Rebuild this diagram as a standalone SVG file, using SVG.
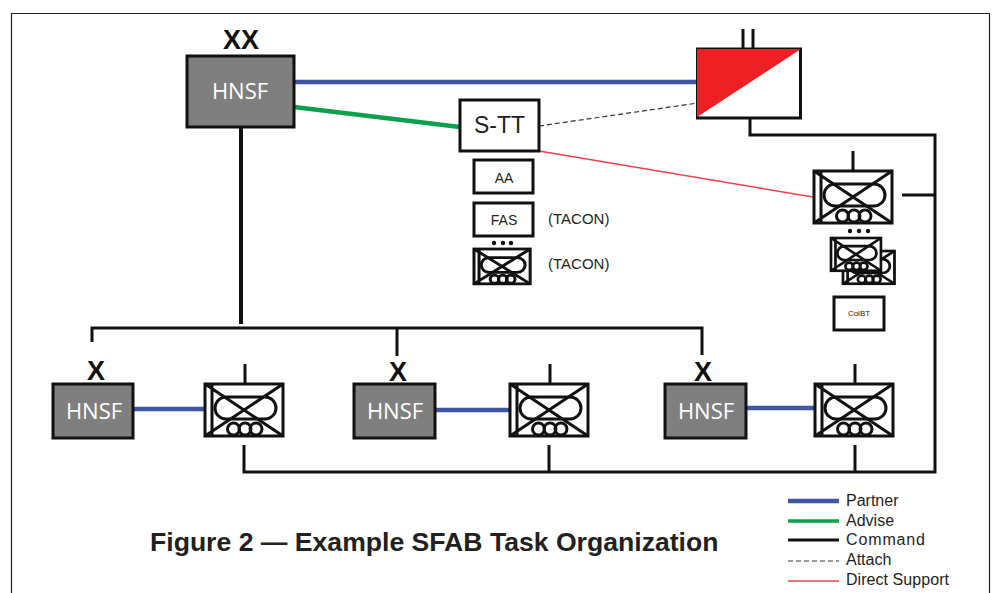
<svg xmlns="http://www.w3.org/2000/svg" width="992" height="593" viewBox="0 0 992 593">
<style>
text{font-family:"Liberation Sans",Arial,sans-serif;fill:#231f20}
.hnsf{fill:#7f7f7f;stroke:#111;stroke-width:3}
.hl{font-family:"Open Sans","Liberation Sans",sans-serif;fill:#fff;font-size:22px;text-anchor:middle}
.box{fill:#fff;stroke:#111;stroke-width:3}
.ech{font-family:"Liberation Sans",sans-serif;font-weight:bold;font-size:27px;text-anchor:middle;fill:#111}
.cmd{fill:none;stroke:#111;stroke-width:3}
.partner{fill:none;stroke:#3f55a5;stroke-width:4.5}
.advise{fill:none;stroke:#0ba14b;stroke-width:4.5}
.attach{fill:none;stroke:#333;stroke-width:1.2;stroke-dasharray:5 3}
.ds{fill:none;stroke:#ee4048;stroke-width:1.4}
.sm{font-size:14px;text-anchor:middle}
.tac{font-size:15px}
.leg{font-size:16px}
.ub{fill:#fff;stroke:#111}
.u{fill:none;stroke:#111}
.d{fill:#111}
.big{stroke-width:3}
.small{stroke-width:4.2}
</style>
<defs>
<g id="unit">
<rect class="ub" x="0" y="0" width="78" height="52"/>
<path class="u" d="M0 0L78 52M78 0L0 52M7 0V52"/>
<rect class="u" x="10" y="13" width="61" height="22" rx="11"/>
<circle class="u" cx="28.5" cy="45" r="6"/><circle class="u" cx="40" cy="45" r="6"/><circle class="u" cx="51" cy="45" r="6"/>
</g>
</defs>
<rect x="0" y="0" width="992" height="593" fill="#fff"/>
<path d="M11.500 593V13.500H989.500V593" fill="none" stroke="#222" stroke-width="1.200"/>
<g id="connectors">
<path class="partner" d="M294 82H698"/>
<path class="advise" d="M294 107L460 127"/>
<path class="cmd" d="M241 127V324" style="stroke-width:4"/>
<path class="cmd" d="M92 342V328H702V355M397 328V356"/>
<path class="attach" d="M539 126L698 103"/>
<path class="ds" d="M539 151L813 197"/>
<path class="cmd" d="M750 118V135H935V472H244V445M549 472V445M855 472V445M902 195H935"/>
<path class="partner" d="M134 409H205M435 410H510M746 408H815"/>
</g>
<g id="n-xx"><rect class="hnsf" x="187" y="56" width="107" height="71"/><text class="hl" x="240" y="99">HNSF</text><text class="ech" x="241" y="49">XX</text></g>
<g id="n-bn"><rect class="box" x="697.500" y="49" width="103" height="69"/><path d="M697 49H801L697 117Z" fill="#ee2024"/><path class="cmd" d="M743 29V49M753 29V49"/></g>
<g id="n-stt"><rect class="box" x="460" y="100" width="79" height="51"/><text x="499.500" y="133" font-size="23" text-anchor="middle">S-TT</text></g>
<g id="n-aa"><rect class="box" x="474" y="160" width="59" height="33"/><text class="sm" x="504" y="183">AA</text></g>
<g id="n-fas"><rect class="box" x="474" y="203" width="59" height="33"/><text class="sm" x="504" y="225">FAS</text><text class="tac" x="548" y="224">(TACON)</text></g>
<g id="n-s1"><circle class="d" cx="494" cy="243" r="2.200"/><circle class="d" cx="503" cy="243" r="2.200"/><circle class="d" cx="511" cy="243" r="2.200"/><use class="small" href="#unit" transform="translate(474 249) scale(.72 .67)"/><text class="tac" x="548" y="269">(TACON)</text></g>
<g id="n-r1"><path class="cmd" d="M853 151V170"/><use class="big" href="#unit" transform="translate(814 171)"/><circle class="d" cx="850" cy="231" r="2.200"/><circle class="d" cx="859" cy="231" r="2.200"/><circle class="d" cx="868" cy="231" r="2.200"/></g>
<g id="n-r2"><use class="small" href="#unit" transform="translate(843 251) scale(.66 .63)"/><use class="small" href="#unit" transform="translate(831 238) scale(.64 .63)"/></g>
<g id="n-colbt"><rect class="box" x="834" y="297" width="50" height="33"/><text x="859" y="316" font-size="8" text-anchor="middle">ColBT</text></g>
<g id="n-b1"><rect class="hnsf" x="53" y="384" width="80" height="54"/><text class="hl" x="94" y="419">HNSF</text><text class="ech" x="96" y="380">X</text></g>
<g id="n-b2"><rect class="hnsf" x="354" y="384" width="81" height="54"/><text class="hl" x="395" y="419">HNSF</text><text class="ech" x="398" y="381">X</text></g>
<g id="n-b3"><rect class="hnsf" x="665" y="384" width="81" height="54"/><text class="hl" x="706" y="419">HNSF</text><text class="ech" x="703" y="381">X</text></g>
<g id="n-u1"><path class="cmd" d="M245 364V383"/><use class="big" href="#unit" transform="translate(205 384)"/></g>
<g id="n-u2"><path class="cmd" d="M550 364V383"/><use class="big" href="#unit" transform="translate(510 384)"/></g>
<g id="n-u3"><path class="cmd" d="M855 364V383"/><use class="big" href="#unit" transform="translate(815 384)"/></g>
<text x="150" y="551" font-size="26.600" font-weight="bold">Figure 2 — Example SFAB Task Organization</text>
<g id="legend">
<path class="partner" d="M788 501H839"/><path class="advise" d="M788 521H839" style="stroke-width:3.500"/><path class="cmd" d="M788 540H839"/><path class="attach" d="M788 561H839"/><path class="ds" d="M788 581H839"/>
<text class="leg" x="846" y="506">Partner</text><text class="leg" x="846" y="526">Advise</text><text class="leg" x="846" y="545" textLength="79">Command</text><text class="leg" x="846" y="565">Attach</text><text class="leg" x="846" y="585" textLength="103">Direct Support</text>
</g>
</svg>
